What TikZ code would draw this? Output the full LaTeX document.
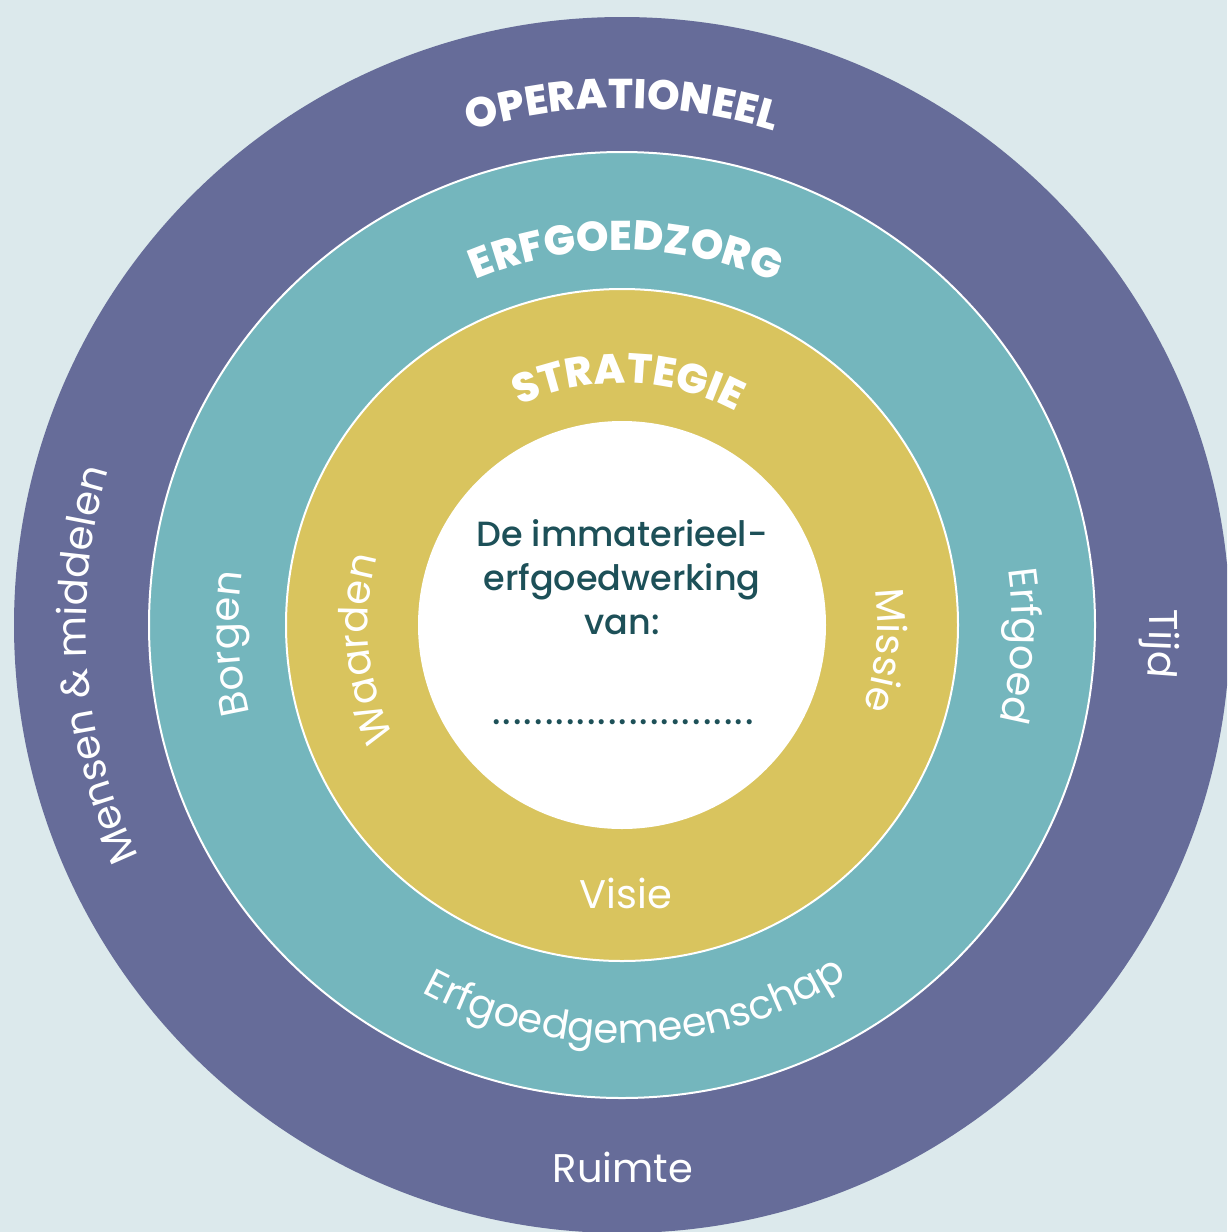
\documentclass[tikz,border=0pt]{standalone}
\usepackage{fontspec}
\setmainfont{Poppins}
\newfontfamily\innerface{Poppins}[UprightFont=* Medium]
\newfontfamily\capface{Poppins}[UprightFont=* ExtraBold]
\usetikzlibrary{decorations.text}

\definecolor{bgblue}{HTML}{DCE9EC}
\definecolor{ringpurple}{HTML}{666C99}
\definecolor{ringteal}{HTML}{74B6BD}
\definecolor{ringyellow}{HTML}{D9C45E}
\definecolor{textteal}{HTML}{1D5058}

\newcommand{\capfont}{\color{white}\capface\fontsize{41.5}{48}\selectfont}
\newcommand{\labelfont}{\color{white}\fontsize{40}{48}\selectfont}
\newcommand{\innerfont}{\innerface\fontsize{35}{44}\selectfont}

\tikzset{
  ring/.style={circle, draw=white, line width=2pt, inner sep=0pt},
  caplabel/.style={decorate, decoration={text along path, text align=center, text={|\capfont|#1}}},
  arclabel/.style={decorate, decoration={text along path, text align=center, text={|\labelfont|#1}}},
  flatlabel/.style={anchor=base, font=\labelfont},
}

\begin{document}
\begin{tikzpicture}[x=1pt,y=1pt]
	\useasboundingbox (0,0) rectangle (1227,-1232);
	\clip (0,0) rectangle (1227,-1232);
	\fill [bgblue] (0,0) rectangle (1227,-1232);
	\coordinate (C) at (622,-625);
	% the rings
	\node [ring, draw=none, fill=ringpurple, minimum size=1216pt] (operational) at (C) {};
	\node [ring, fill=ringteal, minimum size=946pt] (heritagecare) at (C) {};
	\node [ring, fill=ringyellow, minimum size=672pt] (strategy) at (C) {};
	\node [ring, draw=none, fill=white, minimum size=408pt] (core) at (C) {};
	% ring titles
	\path [caplabel=OPERATIONEEL] ([shift={(135:517)}]C) arc [start angle=135, end angle=45, radius=517];
	\path [caplabel=ERFGOEDZORG] ([shift={(139.4:375)}]C) arc [start angle=139.4, end angle=39.4, radius=375];
	\path [caplabel=STRATEGIE] ([shift={(148.4:242)}]C) arc [start angle=148.4, end angle=28.4, radius=242];
	% outer ring
	\path [arclabel={Mensen {\&} middelen}] ([shift={(229.4:536)}]C) arc [start angle=229.4, end angle=139.4, radius=536];
	\path [arclabel=Tijd] ([shift={(30:528)}]C) arc [start angle=30, end angle=-34, radius=528];
	\node [flatlabel] (space) at (623,-1182) {Ruimte};
	% middle ring
	\path [arclabel=Borgen] ([shift={(230:383)}]C) arc [start angle=230, end angle=135.4, radius=383];
	\path [arclabel=Erfgoed] ([shift={(42:390)}]C) arc [start angle=42, end angle=-48, radius=390];
	\path [arclabel=Erfgoedgemeenschap] ([shift={(212:418)}]C) arc [start angle=212, end angle=332, radius=418];
	% inner ring
	\path [arclabel=Waarden] ([shift={(240:254)}]C) arc [start angle=240, end angle=130.6, radius=254];
	\path [arclabel=Missie] ([shift={(44.5:255)}]C) arc [start angle=44.5, end angle=-55.5, radius=255];
	\node [flatlabel] (vision) at (626,-908) {Visie};
	% centre
	\node [align=center, text=textteal, font=\innerfont] (owner) at (622,-577) {De immaterieel-\\erfgoedwerking\\van:};
	\node [anchor=base, text=textteal, font=\innerfont\addfontfeature{LetterSpace=6}] (blank) at (623,-724) {.........................};
\end{tikzpicture}
\end{document}
